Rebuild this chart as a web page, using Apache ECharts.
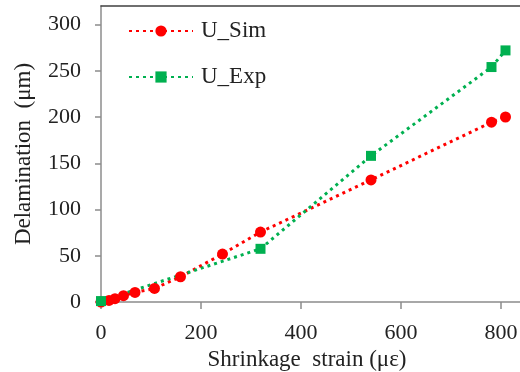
<!DOCTYPE html>
<html>
<head>
<meta charset="utf-8">
<script src="https://cdn.jsdelivr.net/npm/echarts@6/dist/echarts.min.js"></script>
<style>
  html, body { margin: 0; padding: 0; background: #fff; }
  #main { width: 520px; height: 372px; }
</style>
</head>
<body>
<div id="main"></div>
<script>
var simStrain = [0, 16, 28, 45, 68, 107, 159, 243, 319, 540, 781, 809];
var simDelam = [0, 1.7, 3.6, 6.8, 10.4, 14.7, 27.3, 51.8, 75.6, 132, 194.4, 200];
var expStrain = [0, 319, 540, 781, 809];
var expDelam = [1, 57.5, 158, 254, 272];
var xTicks = [0, 200, 400, 600, 800];
var yTicks = [0, 50, 100, 150, 200, 250, 300];

var font = '"Liberation Serif", "Times New Roman", "DejaVu Serif", serif';
var colors = ['#ff0000', '#00b050'];

function pairs(xs, ys) {
	return xs.map(function (x, i) { return [x, ys[i]]; });
}

var myChart = echarts.init(document.getElementById('main'));

var option = {
	animation: false,
	color: colors,
	grid: {
		left: 101,
		top: 6,
		bottom: 70,
		right: -6,
		outerBoundsMode: 'none'
	},
	legend: {
		orient: 'vertical',
		left: 123,
		top: 14,
		itemWidth: 64,
		itemHeight: 14,
		itemGap: 22,
		textStyle: {
			fontFamily: font,
			fontSize: 23,
			color: '#222',
			lineHeight: 24,
			padding: [0, 0, 0, 3]
		},
		data: ['U_Sim', 'U_Exp']
	},
	xAxis: [{
		type: 'value',
		min: 0,
		max: 850,
		interval: 200,
		name: 'Shrinkage  strain (με)',
		nameLocation: 'middle',
		nameGap: 46,
		nameTextStyle: {
			fontFamily: font,
			fontSize: 23,
			color: '#222',
			padding: [0, 13, 0, 0]
		},
		axisLine: { lineStyle: { color: '#8c8c8c', width: 1.5 } },
		axisTick: { show: true, length: 7, lineStyle: { color: '#8c8c8c', width: 1.5 } },
		axisLabel: {
			fontFamily: font,
			fontSize: 22,
			color: '#222',
			margin: 20,
			showMaxLabel: false,
			formatter: function (v) { return xTicks.indexOf(v) >= 0 ? v : ''; }
		},
		splitLine: { show: false }
	}, {
		type: 'value',
		position: 'top',
		min: 0,
		max: 850,
		axisLine: { show: true, lineStyle: { color: '#404040', width: 1.5 } },
		axisTick: { show: false },
		axisLabel: { show: false },
		splitLine: { show: false }
	}],
	yAxis: {
		type: 'value',
		min: 0,
		max: 320,
		interval: 50,
		name: 'Delamination  (μm)',
		nameLocation: 'middle',
		nameGap: 66,
		nameTextStyle: {
			fontFamily: font,
			fontSize: 23,
			color: '#222'
		},
		axisLine: { show: true, lineStyle: { color: '#8c8c8c', width: 1.5 } },
		axisTick: { show: true, length: 6, lineStyle: { color: '#8c8c8c', width: 1.5 } },
		axisLabel: {
			fontFamily: font,
			fontSize: 22,
			color: '#222',
			margin: 20,
			showMaxLabel: false,
			formatter: function (v) { return yTicks.indexOf(v) >= 0 ? v : ''; }
		},
		splitLine: { show: false }
	},
	series: [{
		name: 'U_Sim',
		type: 'line',
		symbol: 'circle',
		symbolSize: 11,
		itemStyle: { color: colors[0] },
		lineStyle: { color: colors[0], width: 3, type: [3, 4] },
		data: pairs(simStrain, simDelam)
	}, {
		name: 'U_Exp',
		type: 'line',
		symbol: 'rect',
		symbolSize: 10,
		itemStyle: { color: colors[1] },
		lineStyle: { color: colors[1], width: 3, type: [3, 4] },
		data: pairs(expStrain, expDelam)
	}]
};

myChart.setOption(option);
</script>
</body>
</html>
